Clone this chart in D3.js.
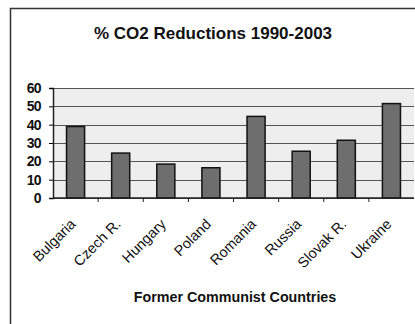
<!DOCTYPE html>
<html>
<head>
<meta charset="utf-8">
<script src="https://cdn.jsdelivr.net/npm/d3@7"></script>
<style>
  body { margin: 0; background: #fff; }
  svg { display: block; font-family: Arial, "Liberation Sans", sans-serif; }
</style>
</head>
<body>
<svg id="chart" width="415" height="324"></svg>
<script>
const countries = ['Bulgaria', 'Czech R.', 'Hungary', 'Poland', 'Romania', 'Russia', 'Slovak R.', 'Ukraine'];
const reductions = [39, 24.5, 18.5, 16.5, 44.5, 25.5, 31.5, 51.5];
const yTicks = [0, 10, 20, 30, 40, 50, 60];

const svg = d3.select('#chart');
const W = 415, H = 324;
const plot = {left: 53, right: 414, top: 88, bottom: 198};

// Outer chart frame (clipped at right/bottom like the scan)
svg.append('path')
  .attr('d', `M10.5,${H} L10.5,8.5 L${W},8.5`)
  .style('fill', 'none')
  .style('stroke', '#333')
  .style('stroke-width', 1.5);

// Plot background
svg.append('rect')
  .attr('x', plot.left)
  .attr('y', plot.top)
  .attr('width', plot.right - plot.left)
  .attr('height', plot.bottom - plot.top)
  .style('fill', '#eeeeee');

let x = d3.scaleBand()
  .domain(countries)
  .range([plot.left, plot.right])
  .paddingInner(0.6)
  .paddingOuter(0.3);

let y = d3.scaleLinear()
  .domain([0, 60])
  .range([plot.bottom, plot.top]);

// Gridlines
svg.append('g')
  .selectAll('line')
  .data(yTicks)
  .join('line')
  .attr('x1', plot.left)
  .attr('x2', plot.right)
  .attr('y1', d => Math.round(y(d)) + 0.5)
  .attr('y2', d => Math.round(y(d)) + 0.5)
  .style('stroke', '#555')
  .style('stroke-width', 1);

// Bars
svg.append('g')
  .selectAll('rect')
  .data(reductions)
  .join('rect')
  .attr('x', (d, i) => x(countries[i]))
  .attr('y', d => y(d))
  .attr('width', x.bandwidth())
  .attr('height', d => y(0) - y(d))
  .style('fill', '#6e6e6e')
  .style('stroke', '#111')
  .style('stroke-width', 1.5);

// Y axis
let yAxis = svg.append('g')
  .attr('transform', `translate(${plot.left}, 0)`)
  .call(d3.axisLeft(y).tickValues(yTicks).tickSize(4).tickPadding(8));
yAxis.select('.domain').style('stroke', '#222').style('stroke-width', 1.5);
yAxis.selectAll('text')
  .style('font-size', '14px')
  .style('font-weight', 'bold')
  .style('letter-spacing', '-0.6px')
  .style('fill', '#111');

// X axis with ticks between categories
let xAxisG = svg.append('g')
  .attr('transform', `translate(0, ${plot.bottom})`);
xAxisG.append('line')
  .attr('x1', plot.left)
  .attr('x2', plot.right)
  .style('stroke', '#222')
  .style('stroke-width', 1.5);
const step = x.step();
xAxisG.selectAll('.sep')
  .data(countries.slice(1))
  .join('line')
  .attr('class', 'sep')
  .attr('x1', d => x(d) - (step - x.bandwidth()) / 2)
  .attr('x2', d => x(d) - (step - x.bandwidth()) / 2)
  .attr('y1', 0)
  .attr('y2', 4)
  .style('stroke', '#222');

xAxisG.selectAll('text')
  .data(countries)
  .join('text')
  .attr('transform', d => `translate(${x(d) + x.bandwidth() / 2 + 1}, 27) rotate(-45)`)
  .style('text-anchor', 'end')
  .style('font-size', '14.5px')
  .style('fill', '#111')
  .text(d => d);

// Title
svg.append('text')
  .attr('x', 213)
  .attr('y', 39)
  .style('text-anchor', 'middle')
  .style('font-size', '17px')
  .style('font-weight', 'bold')
  .style('fill', '#111')
  .text('% CO2 Reductions 1990-2003');

// Axis title
svg.append('text')
  .attr('x', 235)
  .attr('y', 302)
  .style('text-anchor', 'middle')
  .style('font-size', '14.3px')
  .style('font-weight', 'bold')
  .style('fill', '#111')
  .text('Former Communist Countries');
</script>
</body>
</html>
